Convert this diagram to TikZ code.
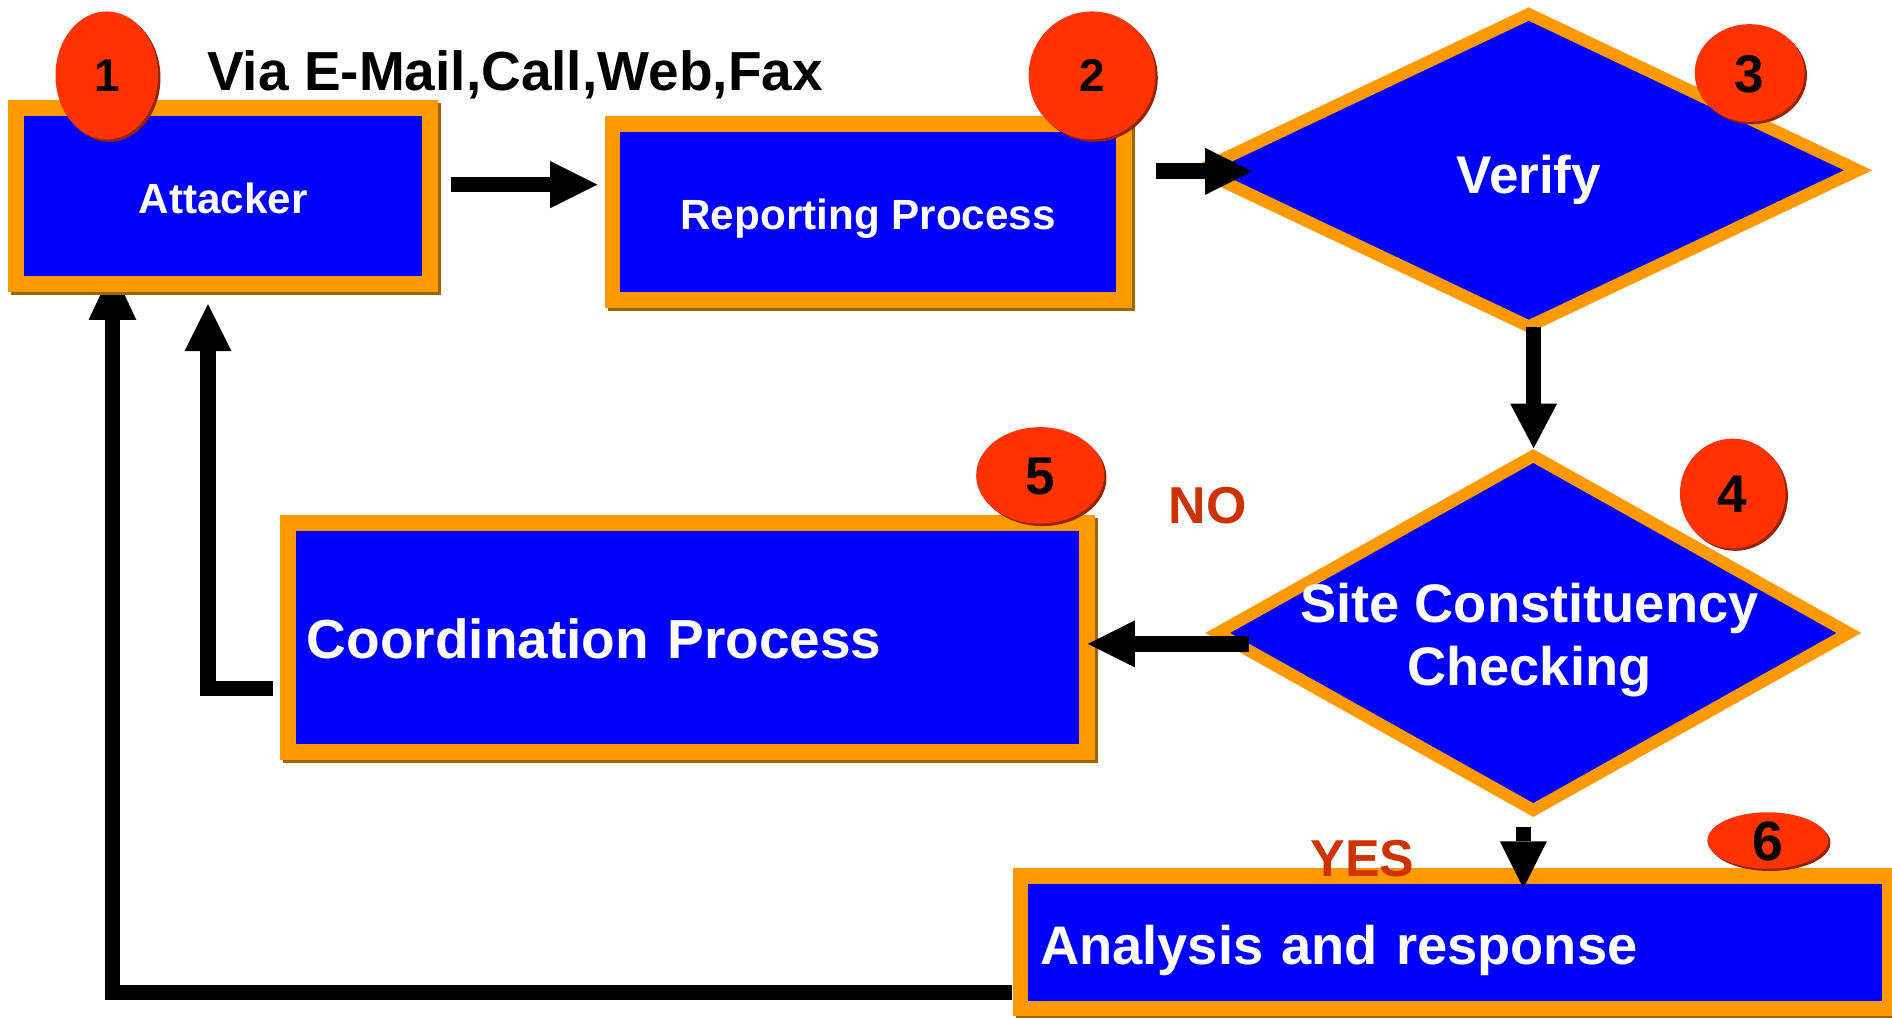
\documentclass[tikz,border=0pt]{standalone}
\usepackage{fontspec}
\setmainfont{Liberation Sans}
\usetikzlibrary{arrows.meta,shapes.geometric,shadows}

\definecolor{boxblue}{HTML}{0000FF}
\definecolor{boxorange}{HTML}{FF9900}
\definecolor{boxshade}{HTML}{996600}
\definecolor{badgered}{HTML}{FF3300}
\definecolor{badgeshade}{HTML}{992200}
\definecolor{answerred}{HTML}{CC3300}

\newcommand\diagfont[1]{\fontsize{#1}{#1}\selectfont\bfseries}

\pgfdeclarelayer{under}
\pgfsetlayers{under,main}

\tikzset{
  stepbox/.style={rectangle, draw=boxorange, fill=boxblue, line width=13pt,
    inner sep=0pt, text=white, text depth=0pt,
    general shadow={shadow xshift=2.5pt, shadow yshift=-2.5pt,
      draw=boxshade, fill=boxshade, line width=13pt}},
  decision/.style={diamond, draw=boxorange, fill=boxblue, line width=10pt,
    inner sep=0pt},
  badge/.style={ellipse, fill=badgered, inner sep=0pt, text=black,
    text depth=0pt,
    general shadow={shadow xshift=2pt, shadow yshift=-2pt, fill=badgeshade}},
  caption/.style={inner sep=0pt, anchor=base},
  conn/.style={draw=black, line width=13pt, line join=miter,
    -{Triangle[width=39pt, length=39pt, line width=0pt]}},
}

\begin{document}
\begin{tikzpicture}[x=1pt, y=-1pt]
\useasboundingbox (0,0) rectangle (1568,843);

% process boxes
\node[stepbox, minimum width=343, minimum height=146, text height=29pt,
  font=\diagfont{35}] (att) at (185,162.5) {Attacker};
\node[stepbox, minimum width=423.7, minimum height=145.7, text height=29pt,
  font=\diagfont{35}] (rep) at (719.5,175.5) {Reporting Process};
\node[stepbox, minimum width=662.4, minimum height=189.6, text height=35pt,
  text width=631pt, align=left, font=\diagfont{45.6}] (coord) at (569.7,528.3)
  {Coordination Process};
\node[stepbox, minimum width=720.2, minimum height=109.7, text height=37pt,
  text width=688pt, align=left, font=\diagfont{45}] (ana) at (1205.9,781)
  {Analysis and response};

% decisions
\node[decision, minimum width=550, minimum height=263] (verify) at (1267,141.1) {};
\node[caption, text=white, font=\diagfont{44}] (verifytxt) at (1267,160.2) {Verify};
\node[decision, minimum width=527.4, minimum height=297.6] (site) at (1270.7,524.6) {};
\node[inner sep=0pt, text=white, align=center,
  font=\fontsize{45}{52.5}\selectfont\bfseries] (sitetxt) at (1267.5,530.5)
  {Site Constituency\\Checking};

% step numbers
\node[badge, minimum width=85, minimum height=106, text height=27pt,
  font=\diagfont{38}] (b1) at (88.5,62.5) {1};
\node[badge, minimum width=105, minimum height=106, text height=27pt,
  font=\diagfont{38}] (b2) at (905,62.5) {2};
\node[badge, minimum width=91, minimum height=81, text height=31.5pt,
  font=\diagfont{44}] (b3) at (1450,60.5) {3};
\node[badge, minimum width=87.5, minimum height=91, text height=31.5pt,
  font=\diagfont{44}] (b4) at (1436,409) {4};
\node[badge, minimum width=106, minimum height=80, text height=31.5pt,
  font=\diagfont{44}] (b5) at (862,394) {5};
\node[badge, minimum width=100, minimum height=45, text height=33pt,
  font=\diagfont{46}] (b6) at (1465,696.5) {6};

% captions
\node[caption, anchor=base west, font=\diagfont{45.6}] (via) at (171.5,74.6)
  {Via E-Mail,Call,Web,Fax};
\node[caption, text=answerred, font=\diagfont{43}] (no) at (1001,433.7) {NO};
\node[caption, text=answerred, font=\diagfont{43}] (yes) at (1129,726.5) {YES};

% flow
\draw[conn] ([shift={(10.6,-9.5)}]att.east) -- ([shift={(-6.15,-22.5)}]rep.west);
\draw[conn] ([shift={(20.15,-33.5)}]rep.east) -- ([shift={(-229.3,0.9)}]verify.center);
\draw[conn, -{Triangle[width=39pt, length=37pt, line width=0pt]}]
  ([shift={(4,129.6)}]verify.center) -- ([shift={(0.3,-153.2)}]site.center);
\draw[conn] ([shift={(-235.5,9)}]site.center) -- ([shift={(-5.9,5.3)}]coord.east);
\draw[conn] ([shift={(-8.2,160.5)}]site.center) -- ([shift={(56.6,16.55)}]ana.north);
\draw[conn] ([shift={(-6,42.2)}]coord.west) -| ([shift={(-12.6,10)}]att.south);
\begin{pgfonlayer}{under}
\draw[conn, -{Triangle[width=39.5pt, length=42pt, line width=0pt]}]
  ([shift={(-0.6,41.6)}]ana.west) -| ([shift={(-91.8,-19)}]att.south);
\end{pgfonlayer}
\end{tikzpicture}
\end{document}
